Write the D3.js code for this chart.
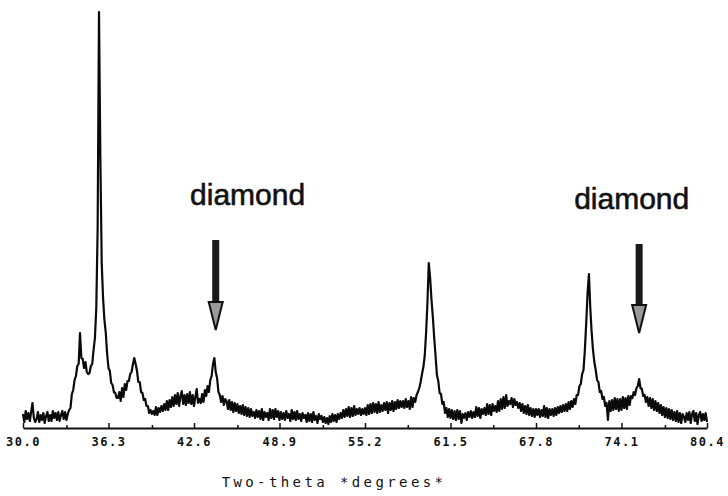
<!DOCTYPE html>
<html>
<head>
<meta charset="utf-8">
<script src="https://cdn.jsdelivr.net/npm/d3@7"></script>
<style>
  body { margin: 0; background: #fff; }
  svg { display: block; }
</style>
</head>
<body>
<div id="xrd"></div>
<script>
// scan settings (degrees two-theta)
const scanStart = 30.0;
const scanStep = 0.1;

// counts, 10 values per degree
const counts = [
  14, 6, 17, 9, 15, 7, 16, 25, 10, 6,
  9, 16, 6, 13, 8, 15, 5, 12, 16, 7,
  13, 7, 17, 10, 15, 8, 16, 7, 13, 17,
  9, 16, 8, 14, 18, 20, 34, 38, 48, 52,
  62, 64, 95, 70, 69, 60, 66, 56, 54, 55,
  62, 64, 78, 90, 120, 200, 416, 270, 165, 130,
  108, 95, 74, 60, 57, 45, 43, 36, 35, 30,
  30, 36, 27, 40, 31, 44, 38, 47, 47, 54,
  56, 64, 70, 64, 57, 46, 46, 36, 35, 28,
  29, 22, 22, 15, 18, 14, 17, 13, 21, 13,
  20, 16, 22, 17, 24, 18, 27, 18, 28, 21,
  31, 22, 33, 24, 35, 22, 32, 37, 24, 33,
  23, 34, 25, 36, 24, 33, 22, 31, 39, 25,
  29, 25, 34, 26, 38, 32, 42, 36, 48, 52,
  64, 70, 56, 50, 36, 33, 26, 32, 23, 29,
  27, 19, 28, 18, 26, 16, 25, 17, 24, 15,
  22, 14, 23, 13, 21, 12, 20, 11, 19, 12,
  16, 10, 18, 11, 17, 9, 19, 8, 16, 11,
  15, 8, 19, 10, 18, 9, 19, 11, 17, 8,
  16, 9, 15, 8, 17, 10, 14, 7, 18, 9,
  16, 8, 17, 9, 14, 7, 15, 10, 13, 6,
  15, 7, 14, 6, 16, 8, 12, 5, 14, 9,
  12, 6, 11, 5, 10, 4, 12, 6, 14, 7,
  13, 6, 14, 9, 15, 10, 18, 11, 19, 12,
  21, 11, 20, 12, 22, 13, 19, 14, 20, 13,
  19, 14, 20, 13, 23, 14, 24, 15, 25, 16,
  24, 15, 26, 16, 23, 17, 25, 18, 26, 15,
  25, 18, 27, 17, 26, 19, 28, 20, 27, 21,
  27, 20, 29, 21, 27, 19, 31, 21, 30, 26,
  33, 36, 40, 46, 54, 61, 72, 95, 125, 165,
  150, 128, 111, 90, 72, 53, 47, 35, 34, 24,
  26, 15, 20, 11, 19, 10, 18, 9, 17, 8,
  18, 9, 17, 5, 14, 10, 15, 8, 16, 11,
  17, 10, 16, 11, 21, 12, 20, 10, 19, 14,
  20, 13, 24, 14, 23, 13, 24, 17, 22, 16,
  27, 17, 29, 19, 31, 20, 33, 22, 27, 24,
  30, 21, 29, 23, 26, 20, 25, 17, 24, 15,
  22, 14, 23, 13, 20, 12, 19, 11, 19, 13,
  19, 11, 18, 12, 22, 11, 20, 10, 19, 13,
  19, 12, 20, 13, 21, 15, 22, 16, 23, 17,
  24, 17, 26, 19, 27, 21, 29, 24, 33, 33,
  42, 44, 54, 58, 78, 105, 135, 154, 120, 96,
  78, 66, 58, 48, 46, 36, 37, 29, 31, 22,
  25, 8, 27, 17, 28, 18, 30, 19, 29, 17,
  29, 18, 31, 20, 30, 19, 32, 23, 32, 30,
  36, 33, 40, 42, 49, 40, 39, 32, 33, 26,
  31, 22, 30, 20, 29, 18, 27, 17, 25, 15,
  23, 13, 21, 11, 20, 10, 19, 9, 18, 8,
  16, 7, 17, 6, 15, 5, 14, 11, 6, 15,
  8, 16, 5, 14, 17, 7, 15, 4, 13, 16,
  7, 14, 8, 15, 6
];

// axis ticks
const majorTicks = [30.0, 36.3, 42.6, 48.9, 55.2, 61.5, 67.8, 74.1, 80.4];
const minorTicks = [33.2, 39.5, 45.8, 52.1, 58.35, 64.65, 70.95, 77.3];

// diamond annotations: arrow position (deg), arrow top / tip (counts), label position
const diamondLabels = ["diamond", "diamond"];
const arrowAngles = [44.2, 75.4];
const arrowTops = [188, 184];
const arrowTips = [98, 95];
const labelAngles = [46.55, 74.85];
const labelCounts = [223, 219];

const width = 728, height = 496;

const svg = d3.select("#xrd")
  .append("svg")
  .attr("width", width)
  .attr("height", height)
  .style("background", "#fff");

// scales
const x = d3.scaleLinear().domain([30.0, 80.4]).range([23, 707]);
const y = d3.scaleLinear().domain([0, 416]).range([428, 12]);

// x axis - major ticks point up into the plot
const xAxis = svg.append("g")
  .attr("transform", "translate(0," + y(0) + ")")
  .call(d3.axisBottom(x)
    .tickValues(majorTicks)
    .tickFormat(d3.format(".1f"))
    .tickSizeInner(-5)
    .tickSizeOuter(0)
    .tickPadding(9));

xAxis.select(".domain").attr("stroke", "#111").attr("stroke-width", 2);
xAxis.selectAll(".tick line").attr("stroke", "#111").attr("stroke-width", 1.5);
xAxis.selectAll("text")
  .attr("font-family", "DejaVu Sans Mono, monospace")
  .attr("font-weight", "bold")
  .attr("font-size", "12px")
  .attr("letter-spacing", "1.5px")
  .attr("fill", "#111");

// minor ticks
svg.append("g")
  .attr("transform", "translate(0," + y(0) + ")")
  .call(d3.axisBottom(x).tickValues(minorTicks).tickFormat("").tickSizeInner(-3).tickSizeOuter(0))
  .call(g => g.select(".domain").remove())
  .selectAll(".tick line").attr("stroke", "#111").attr("stroke-width", 1.5);

// axis title
svg.append("text")
  .attr("x", 334)
  .attr("y", 487)
  .attr("text-anchor", "middle")
  .attr("font-family", "DejaVu Sans Mono, monospace")
  .attr("font-size", "14px")
  .attr("letter-spacing", "3.4px")
  .attr("fill", "#111")
  .text("Two-theta *degrees*");

// diffraction trace
const line = d3.line()
  .x(function(d, i) { return x(scanStart + i * scanStep); })
  .y(function(d) { return y(d); });

svg.append("path")
  .datum(counts)
  .attr("fill", "none")
  .attr("stroke", "#0a0a0a")
  .attr("stroke-width", 2.2)
  .attr("stroke-linejoin", "round")
  .attr("d", line);

// arrows
arrowAngles.forEach(function(a, i) {
  var cx = x(a);
  var top = y(arrowTops[i]);
  var tip = y(arrowTips[i]);
  var headStart = tip - 28;
  svg.append("rect")
    .attr("x", cx - 3.5)
    .attr("y", top)
    .attr("width", 7)
    .attr("height", headStart - top)
    .attr("fill", "#1a1a1a");
  svg.append("path")
    .attr("d", "M" + (cx - 7) + "," + headStart + "L" + (cx + 7) + "," + headStart + "L" + cx + "," + tip + "Z")
    .attr("fill", "#999")
    .attr("stroke", "#111")
    .attr("stroke-width", 2)
    .attr("stroke-linejoin", "miter");
});

// labels
svg.selectAll(".diamond-label")
  .data(diamondLabels)
  .enter()
  .append("text")
  .attr("class", "diamond-label")
  .attr("x", function(d, i) { return x(labelAngles[i]); })
  .attr("y", function(d, i) { return y(labelCounts[i]); })
  .attr("text-anchor", "middle")
  .attr("font-family", "Liberation Sans, Arial, sans-serif")
  .attr("font-size", "30px")
  .attr("fill", "#111")
  .attr("stroke", "#111")
  .attr("stroke-width", 0.6)
  .text(function(d) { return d; });
</script>
</body>
</html>
